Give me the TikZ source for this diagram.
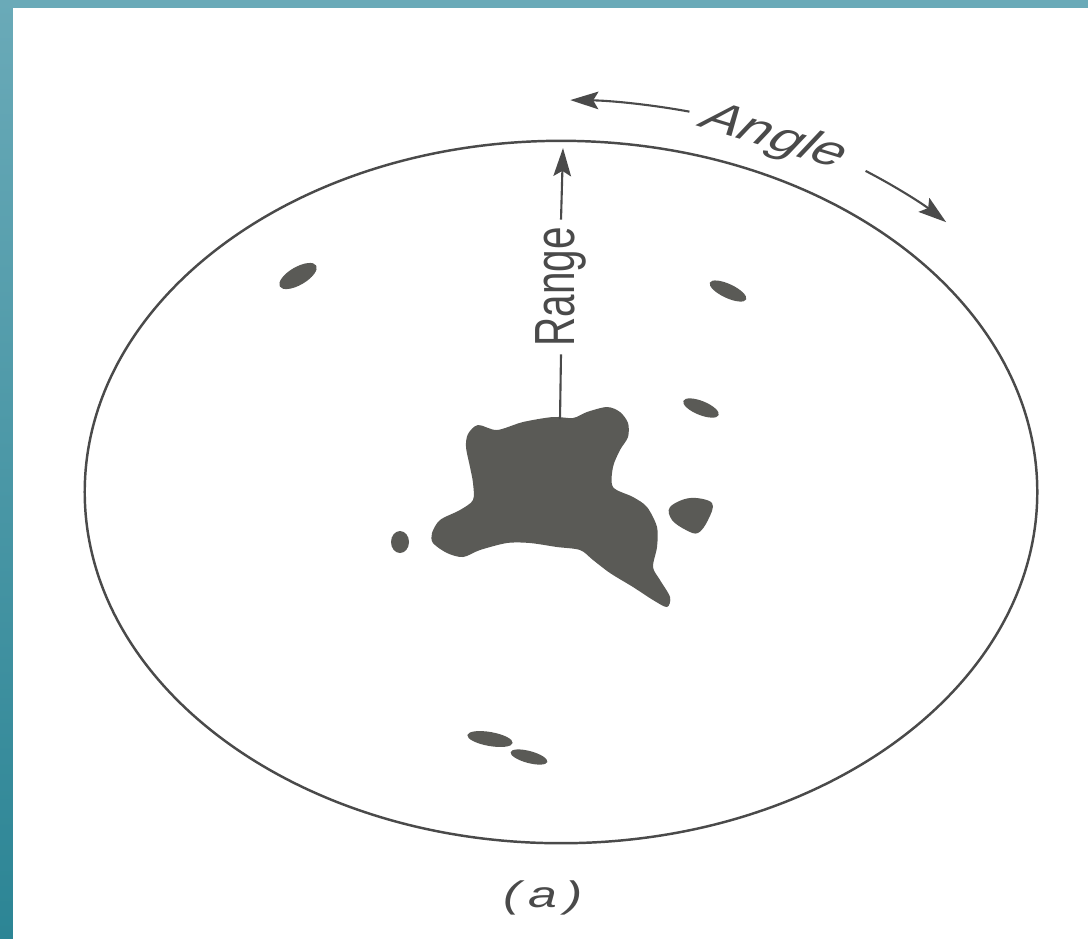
\documentclass[tikz,border=0pt]{standalone}
\usepackage{fontspec}
\setmainfont{Liberation Sans}
\newfontfamily\tagfont[LetterSpace=15]{Liberation Sans}
\usepackage{graphicx}
\usetikzlibrary{arrows.meta,shapes.geometric}
\definecolor{ink}{HTML}{4A4A4A}
\definecolor{echogray}{HTML}{5A5A56}
\definecolor{seatop}{HTML}{6AAAB8}
\definecolor{seabot}{HTML}{2C8595}

% text of the stretched scope picture
\newcommand{\stretchtext}[2]{\scalebox{1.4}[1]{\rotatebox{#1}{#2}}}

\begin{document}
\begin{tikzpicture}[
    x=0.01cm, y=-0.01cm,
    >={Stealth[length=8pt,width=5pt,inset=1.5pt]},
    screen/.style={
        draw=ink,
        line width=0.7pt,
        ellipse,
        inner sep=0pt,
        minimum width=9.52cm,
        minimum height=7.02cm
    },
    echo/.style={fill=echogray},
    axistext/.style={
        text=ink,
        inner sep=2pt
    },
    arr/.style={->, draw=ink, line width=0.6pt}
]
\useasboundingbox (0,0) rectangle (1088,938);

% background
\shade[top color=seatop, bottom color=seabot] (0,0) rectangle (1088,938);
\fill[white] (13,8) rectangle (1100,950);

% scope face
\node[screen] (screen) at (561,492) {};

% main echo
\fill[echo] plot[smooth cycle, tension=0.5] coordinates {
    (468,434) (478,425) (497,430) (523,422) (553,417) (573,418) (587,412)
    (607,407) (620,412) (628,423) (628,437) (620,450) (613,467) (613,487)
    (633,497) (647,507) (657,527) (657,547) (653,567) (660,580) (670,597)
    (667,607) (653,600) (633,587) (610,573) (593,560) (580,550) (557,547)
    (530,543) (507,543) (480,550) (463,557) (447,553) (433,543) (432,533)
    (440,520) (460,510) (473,500) (473,483) (470,467) (466,447)};

% small echoes
\fill[echo] plot[smooth cycle, tension=0.6] coordinates {
    (670,507) (690,498) (712,503) (708,520) (698,533) (686,530) (672,520)};
\fill[echo] (400,542) ellipse [x radius=9, y radius=11];
\fill[echo, rotate around={30:(298,276)}] (298,276) ellipse [x radius=21, y radius=9];
\fill[echo, rotate around={-25:(728,291)}] (728,291) ellipse [x radius=20, y radius=7];
\fill[echo, rotate around={-22:(701,408)}] (701,408) ellipse [x radius=19, y radius=7];
\fill[echo, rotate around={-10:(490,739)}] (490,739) ellipse [x radius=23, y radius=7];
\fill[echo, rotate around={-15:(529,757)}] (529,757) ellipse [x radius=19, y radius=6];

% range marker
\coordinate (echotop) at (560,419);
\coordinate (rangetip) at (563,148);
\node[axistext, font=\fontsize{11.5}{13}\selectfont] (range) at (561,287)
    {\stretchtext{90}{Range}};
\draw[ink, line width=0.6pt] (echotop) -- (range.south);
\draw[arr] (range.north) -- (rangetip);

% angle marker
\path (screen.center) ++(-76:531 and 392) coordinate (angleL);
\path (screen.center) ++(-55:531 and 392) coordinate (angleR);
\node[axistext, font=\fontsize{12}{14}\selectfont\itshape] (angle) at (774,138)
    {\stretchtext{-23}{Angle}};
\draw[arr] (angleL) arc[start angle=-76, end angle=-89, x radius=531, y radius=392];
\draw[arr] (angleR) arc[start angle=-55, end angle=-43.5, x radius=531, y radius=392];

% caption
\node[axistext, font=\fontsize{10.5}{12}\tagfont\itshape] (caption) at (543,898)
    {\stretchtext{0}{(a)}};

\end{tikzpicture}
\end{document}
